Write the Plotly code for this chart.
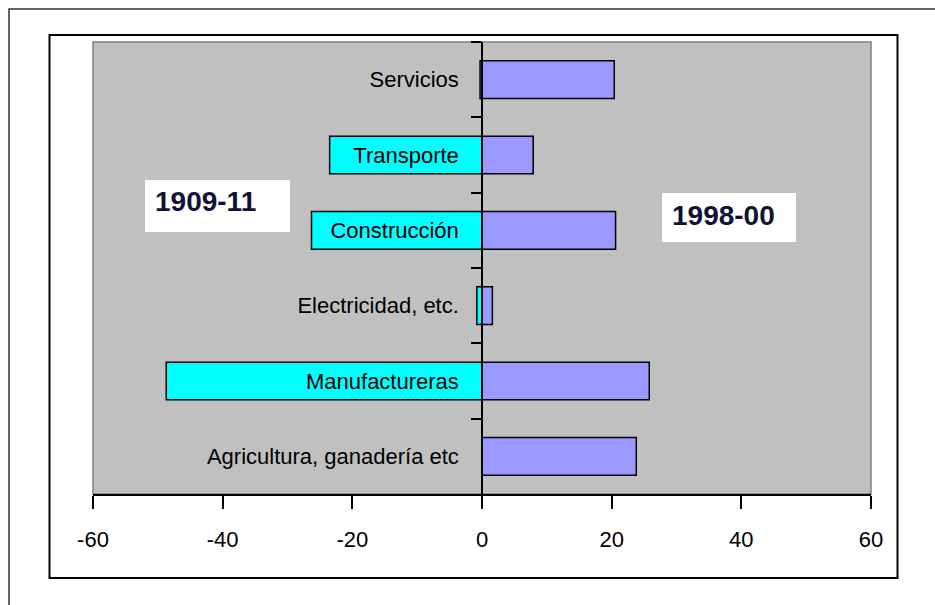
import plotly.graph_objects as go

# ---- data ----
categories = ["Servicios", "Transporte", "Construcción", "Electricidad, etc.",
              "Manufactureras", "Agricultura, ganadería etc"]
values_1909 = [-0.3, -23.5, -26.3, -0.8, -48.7, 0.0]
values_1998 = [20.4, 7.9, 20.6, 1.6, 25.8, 23.8]
series_labels = ["1909-11", "1998-00"]
x_tick_vals = [-60, -40, -20, 0, 20, 40, 60]
x_tick_text = ["-60", "-40", "-20", "0", "20", "40", "60"]

W, H = 935, 605
L, R, T, B = 93, 64, 42, 111
PW, PH = W - L - R, H - T - B


def px(x):
    return (x - L) / PW


def py(y):
    return (H - B - y) / PH


FONT = "Liberation Sans, Arial, sans-serif"

fig = go.Figure()
fig.add_bar(y=categories, x=values_1909, orientation="h", width=0.5,
            name=series_labels[0],
            marker=dict(color="#00FFFF", line=dict(color="black", width=1.5)))
fig.add_bar(y=categories, x=values_1998, orientation="h", width=0.5,
            name=series_labels[1],
            marker=dict(color="#9999FF", line=dict(color="black", width=1.5)))

shapes = [
    # outer frame
    dict(type="rect", xref="paper", yref="paper", x0=px(9), x1=px(960),
         y0=py(640), y1=py(9), line=dict(color="#333333", width=1.5),
         fillcolor="rgba(0,0,0,0)", layer="below"),
    # inner chart frame
    dict(type="rect", xref="paper", yref="paper", x0=px(49.5), x1=px(897.5),
         y0=py(578), y1=py(35), line=dict(color="black", width=2),
         fillcolor="rgba(0,0,0,0)", layer="below"),
    # plot-area border
    dict(type="rect", xref="paper", yref="paper", x0=0, x1=1, y0=0, y1=1,
         line=dict(color="#808080", width=1.5), fillcolor="rgba(0,0,0,0)",
         layer="below"),
    # white label boxes
    dict(type="rect", xref="paper", yref="paper", x0=px(145), x1=px(290),
         y0=py(232), y1=py(180), line=dict(width=0), fillcolor="white",
         layer="above"),
    dict(type="rect", xref="paper", yref="paper", x0=px(662), x1=px(796),
         y0=py(242), y1=py(193), line=dict(width=0), fillcolor="white",
         layer="above"),
]

annotations = [
    dict(xref="paper", yref="paper", x=px(153), y=py(201), xanchor="left",
         yanchor="middle", text="<b>%s</b>" % series_labels[0], showarrow=False,
         font=dict(family=FONT, size=28, color="#111133")),
    dict(xref="paper", yref="paper", x=px(670), y=py(215), xanchor="left",
         yanchor="middle", text="<b>%s</b>" % series_labels[1], showarrow=False,
         font=dict(family=FONT, size=28, color="#111133")),
]

fig.update_layout(
    width=W, height=H,
    margin=dict(l=L, r=R, t=T, b=B, pad=0),
    barmode="relative",
    showlegend=False,
    plot_bgcolor="#C0C0C0",
    paper_bgcolor="white",
    font=dict(family=FONT, size=22, color="black"),
    shapes=shapes,
    annotations=annotations,
    xaxis=dict(range=[-60, 60], tickvals=x_tick_vals, ticktext=x_tick_text,
               ticks="outside",
               ticklen=13, tickwidth=1.5, tickcolor="black", showline=True,
               linecolor="black", linewidth=1.5, showgrid=False, zeroline=False,
               tickfont=dict(family=FONT, size=22, color="black"),
               ticklabelstandoff=12),
    yaxis=dict(autorange="reversed", anchor="free", position=0.5,
               showline=True, linecolor="black", linewidth=1.5,
               ticks="outside", tickson="boundaries", ticklen=10,
               tickwidth=1.5, tickcolor="black", showgrid=False,
               zeroline=False,
               tickfont=dict(family=FONT, size=22, color="black"),
               ticklabelstandoff=18),
)

fig.write_html("out.html", config={"displayModeBar": False},
               post_script="document.body.style.margin='0';document.body.style.padding='0';")
